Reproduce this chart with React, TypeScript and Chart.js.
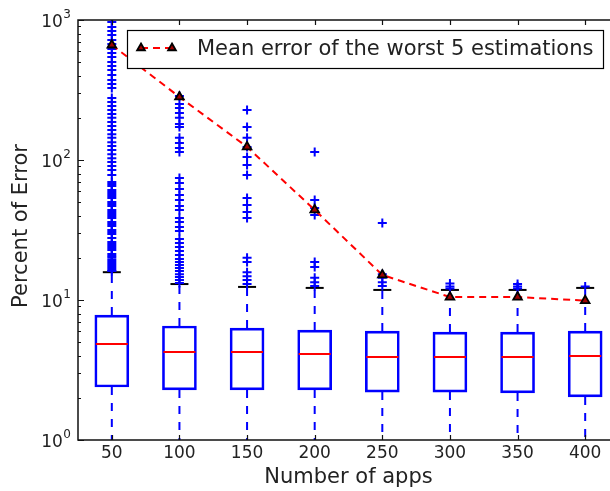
import React, { useEffect, useRef } from "react";
import { Chart, registerables } from "chart.js";

Chart.register(...registerables);

const categories = ["50", "100", "150", "200", "250", "300", "350", "400"];
const q1 = [2.39, 2.28, 2.28, 2.28, 2.2, 2.2, 2.17, 2.03];
const medians = [4.85, 4.25, 4.25, 4.11, 3.92, 3.92, 3.92, 3.98];
const q3 = [7.8, 6.52, 6.3, 6.1, 6.0, 5.9, 5.9, 6.0];
const whiskerLow = [0.5, 0.5, 0.5, 0.5, 0.5, 0.5, 0.5, 0.5];
const whiskerHigh = [15.8, 13.0, 12.4, 12.2, 11.8, 11.8, 11.8, 12.2];
const meanWorst5 = [663, 282, 124, 44, 15.1, 10.5, 10.5, 9.9];

const outliers50 = [
  968, 891, 835, 781, 720, 674, 621, 581, 544, 501, 469, 439, 405, 373, 349, 327,
  277, 260, 243, 228, 213, 200, 187, 175, 164, 153, 144, 134, 126, 118, 110, 103,
  96.8, 90.6, 84.8, 78.1, 69.6, 67.4, 65.2, 61.1, 59.1, 57.2, 55.3, 53.5, 50.1, 48.5,
  46.9, 43.9, 42.5, 41.1, 39.8, 38.5, 36.1, 34.9, 33.8, 31.6, 30.6, 29.6, 27.7, 26.0,
  25.1, 24.3, 23.5, 22.8, 21.3, 20.6, 20.0, 19.3, 18.7, 18.1, 17.5, 16.9, 16.4, 16.1,
];
const outliers100 = [
  286, 251, 235, 217, 200, 181, 172, 144, 132, 122, 114, 74.4, 68.5, 62.1, 56.2, 51.8,
  46.9, 43.9, 38.5, 36.1, 33.2, 31.1, 27.3, 25.5, 23.9, 22.4, 21.0, 19.6, 18.7, 17.8,
  16.9, 16.1, 15.3, 14.6, 13.9, 13.2,
];
const outliers150 = [228, 172, 144, 124, 105, 92.1, 78.1, 53.5, 47.7, 42.5, 38.5, 20.0, 18.7, 15.8, 14.8, 13.9, 13.0];
const outliers200 = [114, 51.8, 45.4, 40.5, 18.7, 17.2, 14.4, 13.4, 12.6];
const outliers250 = [35.5, 15.3, 14.4, 13.4, 12.6];
const outliers300 = [13.1, 12.5, 12.1];
const outliers350 = [13.0, 12.5, 12.1];
const outliers400 = [12.5];

const allOutliers = [
  outliers50, outliers100, outliers150, outliers200,
  outliers250, outliers300, outliers350, outliers400,
];

const yTickExponents = [0, 1, 2, 3];
const legendLabel = "Mean error of the worst 5 estimations";
const xTitle = "Number of apps";
const yTitle = "Percent of Error";

const FONT = "'DejaVu Sans', sans-serif";
const TEXT = "#222";
const TRI_FILL = "#a00000";

function drawTriangle(ctx: CanvasRenderingContext2D, x: number, y: number, r: number) {
  ctx.beginPath();
  let rad = 0;
  ctx.moveTo(x + Math.sin(rad) * r, y - Math.cos(rad) * r);
  rad += (2 * Math.PI) / 3;
  ctx.lineTo(x + Math.sin(rad) * r, y - Math.cos(rad) * r);
  rad += (2 * Math.PI) / 3;
  ctx.lineTo(x + Math.sin(rad) * r, y - Math.cos(rad) * r);
  ctx.closePath();
  ctx.fillStyle = TRI_FILL;
  ctx.fill();
  ctx.strokeStyle = "#000";
  ctx.lineWidth = 1.8;
  ctx.setLineDash([]);
  ctx.stroke();
}

const framePlugin = {
  id: "frame",
  afterDraw(chart: any) {
    const ctx: CanvasRenderingContext2D = chart.ctx;
    const { left, right, top, bottom } = chart.chartArea;
    const xs = chart.scales.x;
    const ys = chart.scales.y;
    ctx.save();

    // legend
    ctx.fillStyle = "#fff";
    ctx.fillRect(127.5, 30.5, 476, 38);
    ctx.strokeStyle = "#000";
    ctx.lineWidth = 1.2;
    ctx.strokeRect(127.5, 30.5, 476, 38);
    ctx.beginPath();
    ctx.setLineDash([7, 5]);
    ctx.strokeStyle = "#ff0000";
    ctx.lineWidth = 2;
    ctx.moveTo(141, 48);
    ctx.lineTo(172, 48);
    ctx.stroke();
    ctx.setLineDash([]);
    drawTriangle(ctx, 141, 48, 4.5);
    drawTriangle(ctx, 172, 48, 4.5);
    ctx.fillStyle = TEXT;
    ctx.font = `21px ${FONT}`;
    ctx.textAlign = "left";
    ctx.textBaseline = "alphabetic";
    ctx.fillText(legendLabel, 197, 55);

    // frame (left, top, bottom spines; right spine lies beyond the visible canvas)
    ctx.strokeStyle = "#111";
    ctx.lineWidth = 1.5;
    ctx.beginPath();
    ctx.moveTo(right, top);
    ctx.lineTo(left, top);
    ctx.lineTo(left, bottom);
    ctx.lineTo(right, bottom);
    ctx.stroke();

    // x ticks
    ctx.lineWidth = 1.2;
    ctx.beginPath();
    categories.forEach((_, i) => {
      const px = Math.round(xs.getPixelForValue(i + 1)) + 0.5;
      ctx.moveTo(px, bottom);
      ctx.lineTo(px, bottom - 5);
      ctx.moveTo(px, top);
      ctx.lineTo(px, top + 5);
    });
    // y ticks
    yTickExponents.forEach((e) => {
      const py = Math.round(ys.getPixelForValue(Math.pow(10, e))) + 0.5;
      ctx.moveTo(left, py);
      ctx.lineTo(left + 6, py);
      if (e < 3) {
        for (let m = 2; m <= 9; m++) {
          const pm = Math.round(ys.getPixelForValue(m * Math.pow(10, e))) + 0.5;
          ctx.moveTo(left, pm);
          ctx.lineTo(left + 3, pm);
        }
      }
    });
    ctx.stroke();

    // x tick labels
    ctx.fillStyle = TEXT;
    ctx.font = `17px ${FONT}`;
    ctx.textAlign = "center";
    categories.forEach((c, i) => {
      ctx.fillText(c, xs.getPixelForValue(i + 1), 458);
    });

    // y tick labels
    yTickExponents.forEach((e) => {
      const py = ys.getPixelForValue(Math.pow(10, e));
      ctx.font = `12px ${FONT}`;
      ctx.textAlign = "right";
      const sup = String(e);
      const supW = ctx.measureText(sup).width;
      ctx.fillText(sup, 71, py - 2);
      ctx.font = `17px ${FONT}`;
      ctx.fillText("10", 71 - supW - 0.5, py + 7);
    });

    // titles
    ctx.font = `21px ${FONT}`;
    ctx.textAlign = "center";
    ctx.fillText(xTitle, (left + right) / 2, 483);
    ctx.save();
    ctx.translate(27, 226);
    ctx.rotate(-Math.PI / 2);
    ctx.fillText(yTitle, 0, 0);
    ctx.restore();

    ctx.restore();
  },
};

export default function App() {
  const ref = useRef<HTMLCanvasElement>(null);

  useEffect(() => {
    if (!ref.current) return;
    const pos = categories.map((_, i) => i + 1);

    const whiskerData: any[] = [];
    pos.forEach((x, i) => {
      whiskerData.push({ x, y: q3[i] }, { x, y: whiskerHigh[i] }, { x, y: null });
      whiskerData.push({ x, y: q1[i] }, { x, y: whiskerLow[i] }, { x, y: null });
    });

    const outlierData: any[] = [];
    allOutliers.forEach((arr, i) => {
      arr.forEach((v) => outlierData.push({ x: pos[i], y: v }));
    });

    const chart = new Chart(ref.current, {
      type: "scatter",
      data: {
        datasets: [
          {
            type: "line",
            label: legendLabel,
            data: pos.map((x, i) => ({ x, y: meanWorst5[i] })),
            borderColor: "#ff0000",
            borderWidth: 2,
            borderDash: [7, 5],
            pointStyle: "triangle",
            pointRadius: 5,
            pointBackgroundColor: TRI_FILL,
            pointBorderColor: "#000",
            pointBorderWidth: 1.8,
            order: 0,
            clip: 0,
          } as any,
          {
            type: "scatter",
            data: outlierData,
            pointStyle: "cross",
            pointRadius: 4.5,
            pointBorderColor: "#0000ff",
            pointBorderWidth: 2,
            order: 1,
            clip: 0,
          } as any,
          {
            type: "scatter",
            data: pos.map((x, i) => ({ x, y: medians[i] })),
            pointStyle: "line",
            pointRadius: 16,
            pointBorderColor: "#ff0000",
            pointBorderWidth: 2,
            order: 2,
            clip: 0,
          } as any,
          {
            type: "bar",
            data: pos.map((x, i) => ({ x, y: [q1[i], q3[i]] })),
            backgroundColor: "rgba(0,0,0,0)",
            borderColor: "#0000ff",
            borderWidth: 2,
            borderSkipped: false,
            barThickness: 34,
            order: 3,
            clip: 0,
          } as any,
          {
            type: "scatter",
            data: pos.map((x, i) => ({ x, y: whiskerHigh[i] })),
            pointStyle: "line",
            pointRadius: 9,
            pointBorderColor: "#000",
            pointBorderWidth: 2,
            order: 4,
            clip: 0,
          } as any,
          {
            type: "line",
            data: whiskerData,
            borderColor: "#0000ff",
            borderWidth: 2,
            borderDash: [8, 8],
            pointRadius: 0,
            spanGaps: false,
            order: 5,
            clip: 0,
          } as any,
        ],
      },
      options: {
        animation: false,
        responsive: false,
        devicePixelRatio: 1,
        events: [],
        layout: { padding: { left: 78, top: 20, right: 21, bottom: 51 } },
        plugins: { legend: { display: false }, tooltip: { enabled: false }, title: { display: false } },
        scales: {
          x: { type: "linear", min: 0.5, max: 8.5, offset: false, bounds: "data", display: false },
          y: { type: "logarithmic", min: 1, max: 1000, display: false },
        },
      } as any,
      plugins: [framePlugin],
    });
    return () => chart.destroy();
  }, []);

  return (
    <div style={{ position: "fixed", left: 0, top: 0, width: 610, height: 491, overflow: "hidden", background: "#fff" }}>
      <canvas ref={ref} width={640} height={491} style={{ width: 640, height: 491, display: "block" }} />
    </div>
  );
}
